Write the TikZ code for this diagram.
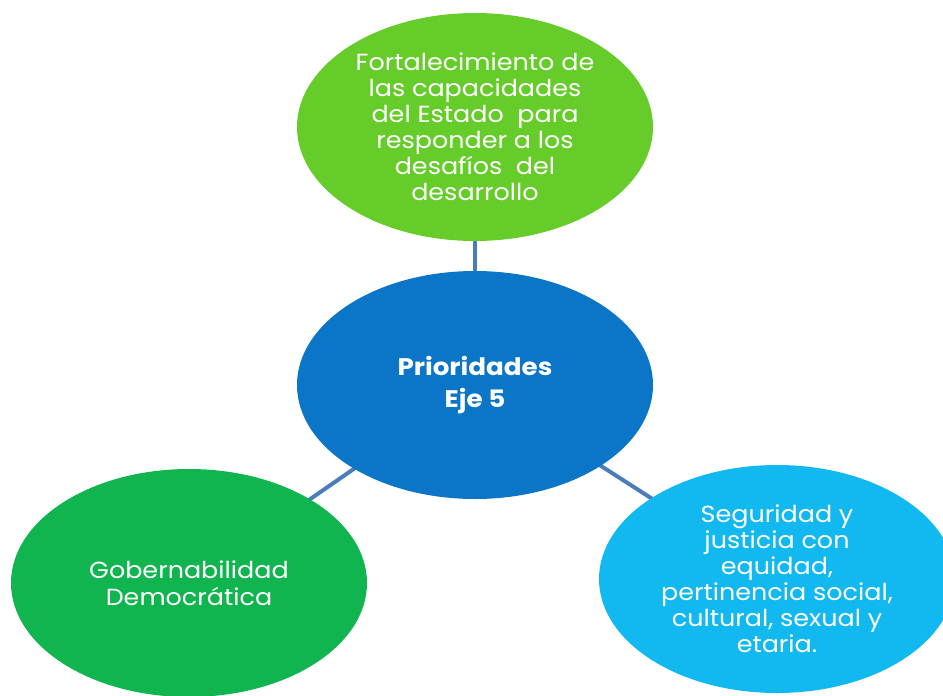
\documentclass[tikz,border=0pt]{standalone}
\usepackage{fontspec}
\setmainfont{Poppins}[FakeStretch=1.09]
\usetikzlibrary{shapes, backgrounds, calc}
\definecolor{limegreen}{HTML}{66CC2A}
\definecolor{deepgreen}{HTML}{10B550}
\definecolor{ejeblue}{HTML}{0B76C8}
\definecolor{skyblue}{HTML}{12B8F0}
\definecolor{linkblue}{HTML}{4A7EBB}
\newcommand{\link}[2]
{
	\draw[linkblue, line width=3pt] (#1.center) -- (#2.center)
}

\begin{document}
\begin{tikzpicture}[x=0.75pt, y=-0.75pt,
	bubble/.style={shape=ellipse, inner sep=0pt,
		minimum width=267pt, minimum height=171pt,
		text=white, align=center,
		font=\fontsize{17.5}{19.5}\selectfont}]

	\useasboundingbox (0, 0) rectangle (943, 696);

	\node[bubble, fill=ejeblue, font=\bfseries\fontsize{18}{23.5}\selectfont] at (475, 385) (eje){Prioridades\\Eje 5};
	\node[bubble, fill=limegreen] at (475, 127) (estado){Fortalecimiento de\\las capacidades\\del Estado~~para\\responder a los\\desafíos~~del\\desarrollo};
	\node[bubble, fill=deepgreen, font=\fontsize{17.5}{20.2}\selectfont] at (189, 583) (gober){Gobernabilidad\\Democrática};
	\node[bubble, fill=skyblue] at (777, 579) (seguridad){Seguridad y\\justicia con\\equidad,\\pertinencia social,\\cultural, sexual y\\etaria.};

	\begin{pgfonlayer}{background}
		\link{eje}{estado};
		\link{eje}{gober};
		\link{eje}{seguridad};
	\end{pgfonlayer}
\end{tikzpicture}
\end{document}
